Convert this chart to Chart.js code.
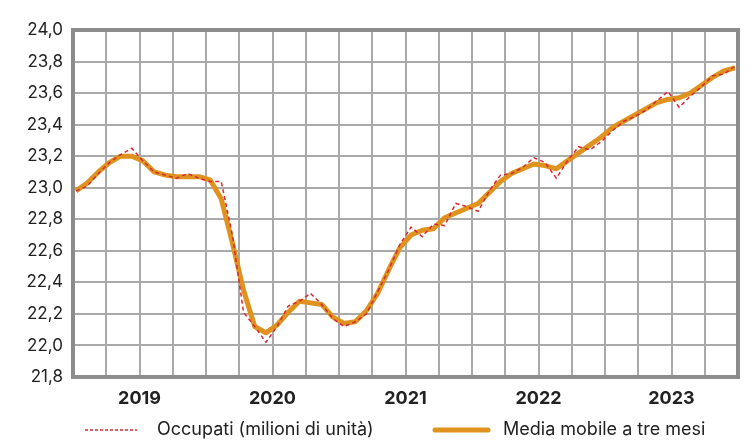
<!DOCTYPE html>
<html><head><meta charset="utf-8">
<script src="https://cdn.jsdelivr.net/npm/chart.js@4"></script>
<style>html,body{margin:0;padding:0;background:#fff}canvas{display:block}</style>
</head><body>
<canvas id="c" width="755" height="440"></canvas>
<script>
const years = ['2019', '2020', '2021', '2022', '2023'];
const monthIndex = Array.from({length: 60}, (_, i) => i); // gen 2019 .. dic 2023
const occupati = [
  22.98, 23.01, 23.09, 23.16, 23.21, 23.25, 23.17, 23.10, 23.08, 23.06, 23.09, 23.06,
  23.04, 23.04, 22.70, 22.21, 22.12, 22.02, 22.12, 22.25, 22.28, 22.33, 22.26, 22.17,
  22.12, 22.15, 22.20, 22.34, 22.48, 22.64, 22.75, 22.69, 22.77, 22.76, 22.90, 22.88,
  22.85, 22.98, 23.08, 23.09, 23.13, 23.19, 23.16, 23.06, 23.17, 23.26, 23.24, 23.29,
  23.36, 23.42, 23.45, 23.49, 23.55, 23.61, 23.51, 23.58, 23.64, 23.71, 23.72, 23.77
];
const mediaMobile = [
  22.98, 23.03, 23.10, 23.16, 23.20, 23.20, 23.17, 23.10, 23.08, 23.07, 23.07, 23.07,
  23.05, 22.93, 22.65, 22.35, 22.12, 22.08, 22.13, 22.21, 22.28, 22.27, 22.26, 22.18,
  22.14, 22.15, 22.22, 22.33, 22.48, 22.62, 22.70, 22.73, 22.74, 22.81, 22.84, 22.87,
  22.90, 22.97, 23.04, 23.09, 23.12, 23.15, 23.14, 23.12, 23.17, 23.22, 23.27, 23.32,
  23.38, 23.42, 23.46, 23.50, 23.54, 23.56, 23.57, 23.60, 23.65, 23.70, 23.74, 23.76
];
const seriesLabels = ['Occupati (milioni di unità)', 'Media mobile a tre mesi'];

Chart.defaults.font.family = 'Inter';
Chart.defaults.font.size = 17;
Chart.defaults.color = '#222';

const frame = {
  id: 'frame',
  beforeDatasetsDraw(chart) {
    const {ctx, chartArea: a} = chart;
    ctx.save();
    ctx.strokeStyle = '#8c8c8c';
    ctx.lineWidth = 4;
    ctx.strokeRect(a.left, a.top, a.right - a.left, a.bottom - a.top);
    ctx.restore();
  }
};

const legendPlugin = {
  id: 'customLegend',
  afterDraw(chart) {
    const ctx = chart.ctx;
    const y = 430;
    ctx.save();
    ctx.font = '18px Inter';
    ctx.fillStyle = '#222';
    ctx.textBaseline = 'middle';
    // red dashed sample
    ctx.strokeStyle = '#d42a36';
    ctx.lineWidth = 1.5;
    ctx.setLineDash([3, 2]);
    ctx.beginPath(); ctx.moveTo(85, y); ctx.lineTo(137, y); ctx.stroke();
    ctx.setLineDash([]);
    ctx.fillText(chart.data.datasets[0].label, 157, y);
    // orange sample
    ctx.strokeStyle = '#e0921f';
    ctx.lineWidth = 5;
    ctx.lineCap = 'round';
    ctx.beginPath(); ctx.moveTo(435, y); ctx.lineTo(488, y); ctx.stroke();
    ctx.fillText(chart.data.datasets[1].label, 503, y);
    ctx.restore();
  }
};

new Chart(document.getElementById('c'), {
  type: 'line',
  data: {
    datasets: [
      {
        label: seriesLabels[0],
        data: monthIndex.map((m, i) => ({x: m, y: occupati[i]})),
        borderColor: '#d42a36',
        borderWidth: 1.5,
        borderDash: [4, 3],
        pointRadius: 0,
        tension: 0,
        xAxisID: 'x', yAxisID: 'y',
        order: 0
      },
      {
        label: seriesLabels[1],
        data: monthIndex.map((m, i) => ({x: m, y: mediaMobile[i]})),
        borderColor: '#e0921f',
        borderWidth: 5,
        pointRadius: 0,
        tension: 0,
        borderJoinStyle: 'round',
        xAxisID: 'x', yAxisID: 'y',
        order: 1
      }
    ]
  },
  options: {
    responsive: false,
    animation: false,
    devicePixelRatio: 1,
    layout: {padding: {top: 30, right: 17, left: 0, bottom: 0}},
    plugins: {legend: {display: false}, tooltip: {enabled: false}},
    scales: {
      x: {
        type: 'linear', display: false, min: -0.27, max: 59.27
      },
      xg: {
        type: 'linear', position: 'bottom', min: 0, max: 20,
        afterFit(scale) { scale.height = 63; },
        grid: {color: '#a9a9a9', lineWidth: 2, drawTicks: false},
        border: {display: false},
        ticks: {
          stepSize: 1, autoSkip: false, maxRotation: 0, padding: 11,
          font: {size: 18, weight: 'bold'},
          callback: v => (v % 4 === 2 ? years[(v - 2) / 4] : '')
        }
      },
      y: {
        min: 21.8, max: 24.0,
        afterFit(scale) { scale.width = 73; },
        grid: {color: '#a9a9a9', lineWidth: 2, drawTicks: false},
        border: {display: false},
        ticks: {
          stepSize: 0.2, padding: 10,
          callback: v => v.toFixed(1).replace('.', ',')
        }
      }
    }
  },
  plugins: [frame, legendPlugin]
});
</script>
</body></html>
